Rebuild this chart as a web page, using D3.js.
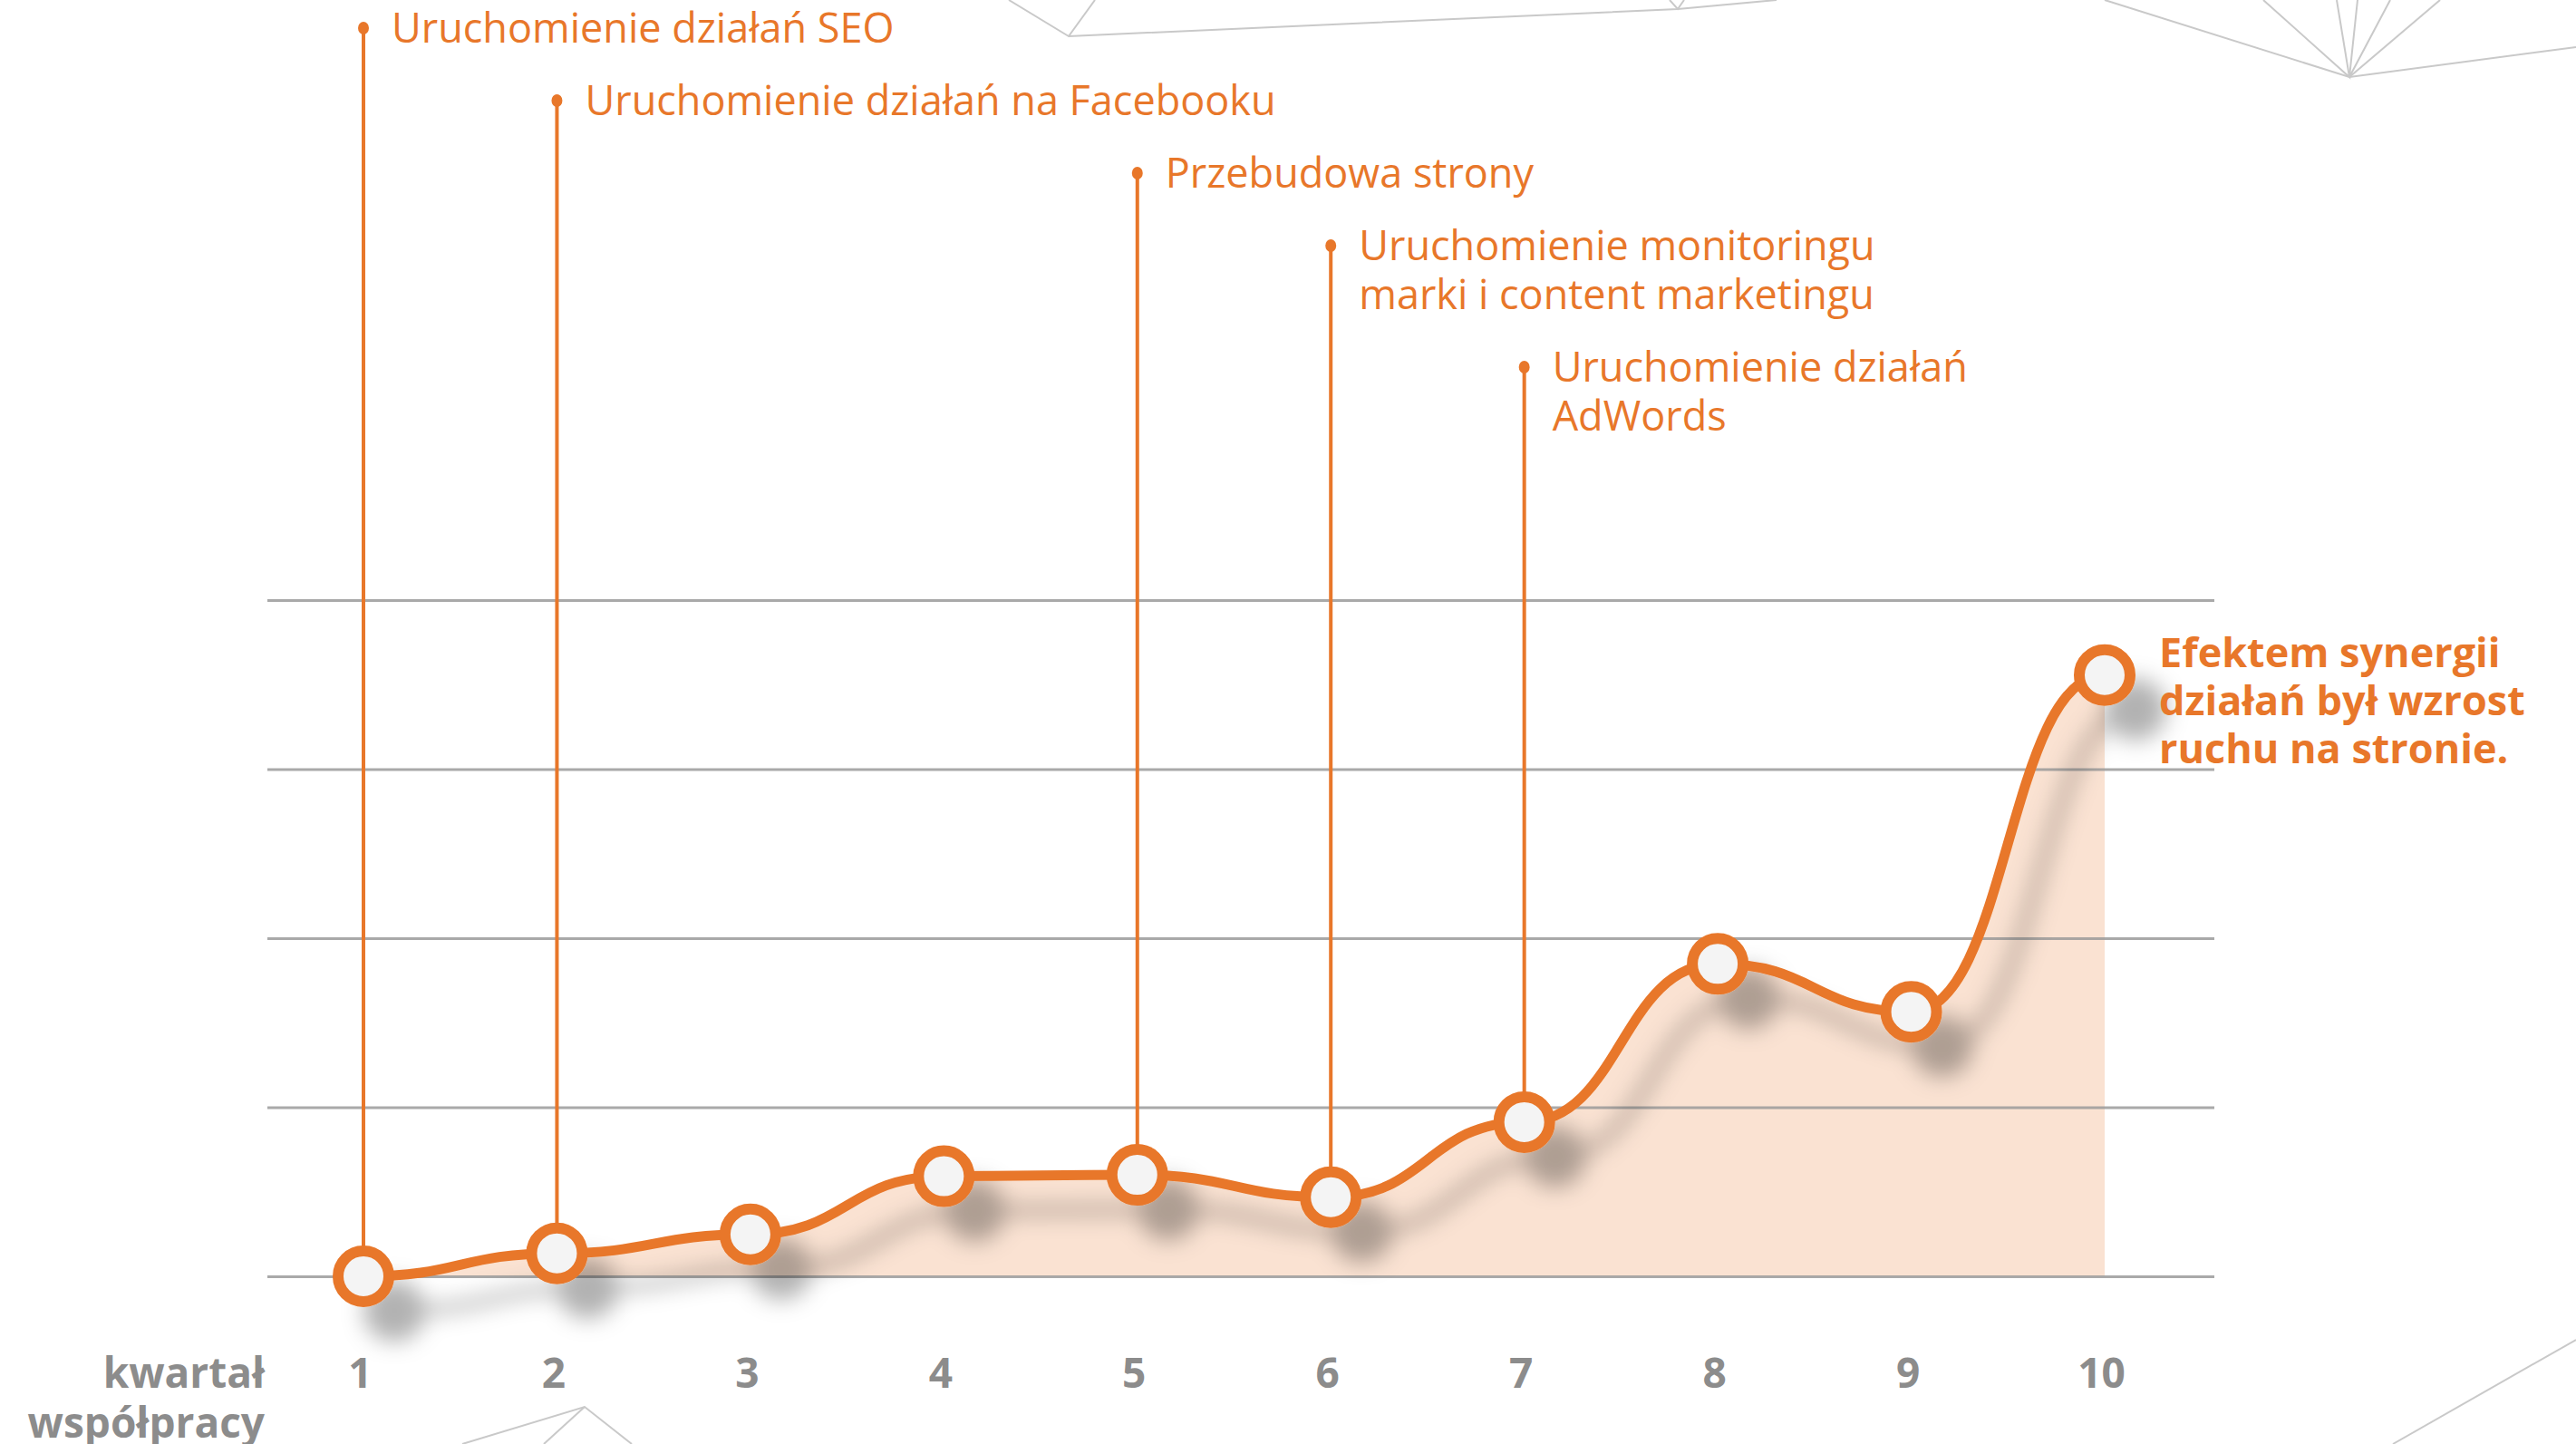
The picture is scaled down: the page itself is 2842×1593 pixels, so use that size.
<!DOCTYPE html>
<html>
<head>
<meta charset="utf-8">
<script src="https://cdn.jsdelivr.net/npm/d3@7"></script>
<style>
  body { margin: 0; background: #fff; }
  svg { display: block; font-family: "Open Sans", sans-serif; }
</style>
</head>
<body>
<svg id="chart" width="2842" height="1593"></svg>
<script>
// quarters of cooperation and relative site traffic
const quarters = [1, 2, 3, 4, 5, 6, 7, 8, 9, 10];
const traffic = [0, 3.4, 6.2, 14.8, 15.0, 11.7, 22.8, 46.2, 39.1, 88.9];
const gridTicks = [0, 25, 50, 75, 100];

// milestones: quarter where each action started
const eventQuarters = [1, 2, 5, 6, 7];
const eventLabels = [
  ['Uruchomienie działań SEO'],
  ['Uruchomienie działań na Facebooku'],
  ['Przebudowa strony'],
  ['Uruchomienie monitoringu', 'marki i content marketingu'],
  ['Uruchomienie działań', 'AdWords']
];
const resultLines = ['Efektem synergii', 'działań był wzrost', 'ruchu na stronie.'];
const axisTitle = ['kwartał', 'współpracy'];

// faint low-poly background ornament
const ornament = [
  [[1113, 0], [1179, 40], [1208, 0]],
  [[1179, 40], [1851, 10], [1960, 0]],
  [[1842, 0], [1851, 10], [1858, 0]],
  [[2322, 0], [2592, 85], [2842, 52]],
  [[2497, 0], [2592, 85], [2578, 0]],
  [[2601, 0], [2592, 85], [2637, 0]],
  [[2692, 0], [2592, 85]],
  [[510, 1593], [645, 1552], [697, 1593]],
  [[600, 1593], [645, 1552]],
  [[2640, 1593], [2842, 1478]]
];

const orange = '#e8772a';
const svg = d3.select('#chart');

const x = d3.scaleLinear().domain([1, 10]).range([401, 2322]);
const y = d3.scaleLinear().domain([0, 100]).range([1408, 662]);

const defs = svg.append('defs');
defs.append('filter').attr('id', 'shadow')
  .attr('x', '-10%').attr('y', '-10%').attr('width', '130%').attr('height', '140%')
  .append('feDropShadow')
  .attr('dx', 34).attr('dy', 38).attr('stdDeviation', 12)
  .attr('flood-color', '#000').attr('flood-opacity', 0.3);

svg.append('g').selectAll('path')
  .data(ornament)
  .join('path')
  .attr('d', d3.line())
  .attr('fill', 'none')
  .attr('stroke', '#c9c9c9')
  .attr('stroke-width', 2);

const pts = quarters.map((q, i) => [q, traffic[i]]);
const curve = d3.curveBumpX;

svg.append('path')
  .datum(pts)
  .attr('d', d3.area().x(d => x(d[0])).y0(y(0)).y1(d => y(d[1])).curve(curve))
  .attr('fill', '#fae2d2');

// horizontal grid
const yAxis = d3.axisLeft(y).tickValues(gridTicks).tickSize(-(2443 - 295)).tickFormat('');
svg.append('g')
  .attr('transform', 'translate(295,0)')
  .call(yAxis)
  .call(g => g.select('.domain').remove())
  .call(g => g.selectAll('line').attr('stroke', '#9a9a9a').attr('stroke-opacity', 0.85).attr('stroke-width', 3));

// x axis labels
const xAxis = d3.axisBottom(x).tickValues(quarters).tickSize(0).tickPadding(0).tickFormat(d3.format('d'));
svg.append('g')
  .attr('transform', 'translate(-4,1515)')
  .call(xAxis)
  .call(g => g.select('.domain').remove())
  .call(g => g.selectAll('text')
    .attr('dy', '0.35em').attr('y', 0)
    .attr('fill', '#8c8c8c').attr('font-size', 46).attr('font-weight', 700)
    .attr('font-family', '"Open Sans", sans-serif'));

svg.append('g').selectAll('text')
  .data(axisTitle)
  .join('text')
  .attr('x', 292)
  .attr('y', (d, i) => 1515 + i * 55)
  .attr('dy', '0.35em')
  .attr('text-anchor', 'end')
  .attr('fill', '#8c8c8c')
  .attr('font-size', 46)
  .attr('font-weight', 700)
  .text(d => d);

// milestone stems and labels
let level = 31;
const events = eventQuarters.map((q, i) => {
  const e = { q, lines: eventLabels[i], top: level };
  level += 80 + 54 * (eventLabels[i].length - 1);
  return e;
});

const ev = svg.append('g').selectAll('g')
  .data(events)
  .join('g');

ev.append('line')
  .attr('x1', d => x(d.q)).attr('x2', d => x(d.q))
  .attr('y1', d => d.top).attr('y2', d => y(traffic[d.q - 1]))
  .attr('stroke', orange).attr('stroke-width', 4);

ev.append('ellipse')
  .attr('cx', d => x(d.q)).attr('cy', d => d.top)
  .attr('rx', 6).attr('ry', 7)
  .attr('fill', orange);

ev.append('text')
  .attr('transform', d => `translate(${x(d.q) + 31},${d.top})`)
  .attr('fill', orange)
  .attr('font-size', 45)
  .selectAll('tspan')
  .data(d => d.lines)
  .join('tspan')
  .attr('x', 0)
  .attr('y', (d, i) => i * 54)
  .attr('dy', '0.35em')
  .text(d => d);

// traffic line with markers
const lineG = svg.append('g').attr('filter', 'url(#shadow)');
lineG.append('path')
  .datum(pts)
  .attr('d', d3.line().x(d => x(d[0])).y(d => y(d[1])).curve(curve))
  .attr('fill', 'none')
  .attr('stroke', orange)
  .attr('stroke-width', 11)
  .attr('stroke-linecap', 'round');

lineG.selectAll('circle')
  .data(pts)
  .join('circle')
  .attr('cx', d => x(d[0]))
  .attr('cy', d => y(d[1]))
  .attr('r', 28)
  .attr('fill', '#f4f4f4')
  .attr('stroke', orange)
  .attr('stroke-width', 12);

// result note
svg.append('text')
  .attr('transform', `translate(${x(10) + 60},${y(traffic[9]) - 25})`)
  .attr('fill', orange)
  .attr('font-size', 45)
  .attr('font-weight', 700)
  .selectAll('tspan')
  .data(resultLines)
  .join('tspan')
  .attr('x', 0)
  .attr('y', (d, i) => i * 53)
  .attr('dy', '0.35em')
  .text(d => d);
</script>
</body>
</html>
